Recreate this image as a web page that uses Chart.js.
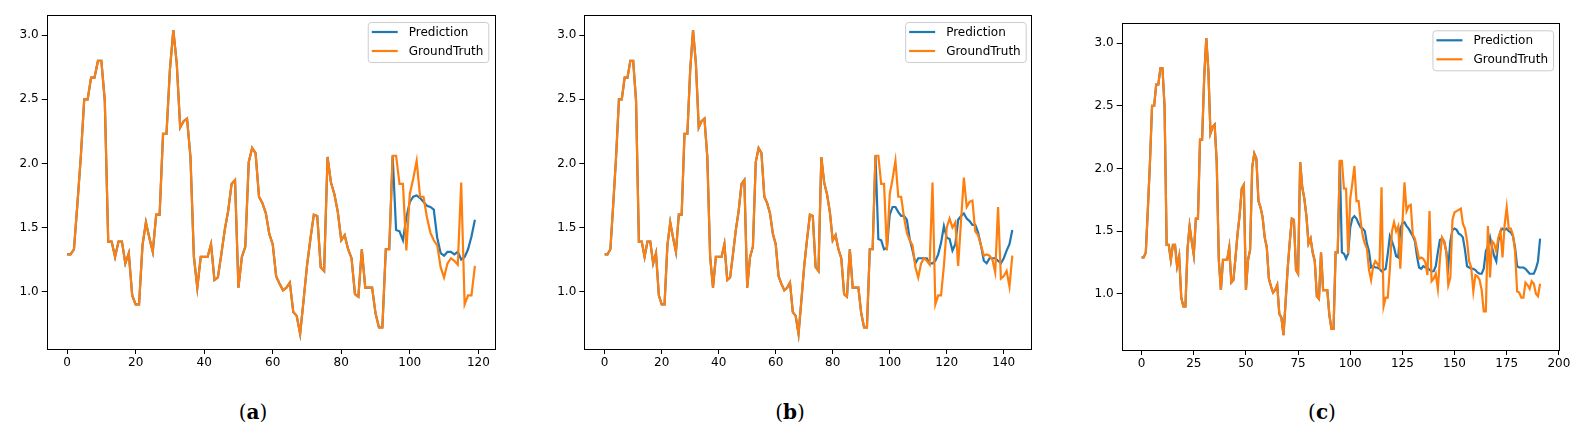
<!DOCTYPE html>
<html>
<head>
<meta charset="utf-8">
<script src="https://cdn.jsdelivr.net/npm/chart.js@4.4.1/dist/chart.umd.min.js"></script>
<style>
html, body { margin: 0; padding: 0; background: #fff; }
body { width: 1586px; height: 432px; position: relative; overflow: hidden; }
canvas { position: absolute; top: 0; }
.cap { position: absolute; top: 400px; width: 60px; margin-left: -30px; text-align: center;
       font-family: 'DejaVu Serif', serif; font-size: 20px; line-height: 24px; color: #000; }
</style>
</head>
<body>
<canvas id="ca" width="505" height="380" style="left:0px"></canvas>
<canvas id="cb" width="500" height="380" style="left:540px"></canvas>
<canvas id="cc" width="500" height="380" style="left:1075px"></canvas>
<div class="cap" style="left:253px">(<b>a</b>)</div>
<div class="cap" style="left:790px">(<b>b</b>)</div>
<div class="cap" style="left:1322px">(<b>c</b>)</div>
<script>
// ground truth, index 0..191 (panel a shows 0..119, b 0..143, c 0..191)
const groundTruth = [
  1.29, 1.29, 1.33, 1.68, 2.05, 2.50, 2.50, 2.67, 2.67, 2.80,
  2.80, 2.49, 1.39, 1.39, 1.27, 1.39, 1.39, 1.22, 1.30, 0.97,
  0.90, 0.90, 1.36, 1.54, 1.42, 1.31, 1.60, 1.60, 2.23, 2.23,
  2.73, 3.04, 2.78, 2.28, 2.33, 2.35, 2.05, 1.27, 1.03, 1.27,
  1.27, 1.27, 1.37, 1.09, 1.11, 1.29, 1.48, 1.63, 1.84, 1.87,
  1.03, 1.27, 1.35, 2.01, 2.12, 2.08, 1.74, 1.69, 1.61, 1.45,
  1.37, 1.12, 1.06, 1.01, 1.03, 1.07, 0.84, 0.81, 0.67, 0.93,
  1.20, 1.41, 1.60, 1.59, 1.19, 1.16, 2.05, 1.85, 1.76, 1.62,
  1.40, 1.44, 1.33, 1.26, 0.98, 0.96, 1.33, 1.03, 1.03, 1.03,
  0.83, 0.72, 0.72, 1.33, 1.33, 2.06, 2.06, 1.84, 1.84, 1.32,
  1.76, 1.88, 2.02, 1.74, 1.74, 1.58, 1.46, 1.40, 1.36, 1.19,
  1.11, 1.22, 1.26, 1.24, 1.21, 1.85, 0.90, 0.97, 0.97, 1.20,
  1.50, 1.57, 1.50, 1.54, 1.20, 1.55, 1.89, 1.66, 1.70, 1.71,
  1.47, 1.44, 1.36, 1.28, 1.29, 1.28, 1.25, 1.15, 1.66, 1.10,
  1.12, 1.16, 1.04, 1.28, 1.45, 1.42, 1.34, 1.07, 1.13, 1.59,
  1.65, 1.66, 1.67, 1.68, 1.56, 1.52, 1.42, 1.26, 1.21, 1.02,
  1.15, 1.14, 1.11, 1.03, 0.86, 0.86, 1.54, 1.13, 1.42, 1.40,
  1.34, 1.45, 1.50, 1.29, 1.55, 1.69, 1.52, 1.52, 1.47, 1.34,
  1.02, 1.01, 0.97, 0.97, 1.09, 1.07, 1.04, 1.10, 1.08, 1.00,
  0.98, 1.08
];

// the prediction follows the input window up to index 95, then forecasts from 96
const inputLength = 96;

const forecastA = [
  1.48, 1.47, 1.40, 1.58, 1.70, 1.74, 1.75, 1.73, 1.70, 1.67,
  1.66, 1.64, 1.42, 1.30, 1.28, 1.31, 1.31, 1.29, 1.31, 1.25,
  1.27, 1.33, 1.43, 1.56
];

const forecastB = [
  1.41, 1.40, 1.33, 1.34, 1.60, 1.66, 1.66, 1.62, 1.59, 1.59,
  1.56, 1.41, 1.32, 1.22, 1.26, 1.26, 1.26, 1.26, 1.22, 1.22,
  1.24, 1.29, 1.38, 1.51, 1.42, 1.41, 1.32, 1.37, 1.56, 1.59,
  1.61, 1.57, 1.55, 1.52, 1.52, 1.46, 1.36, 1.24, 1.22, 1.26,
  1.26, 1.26, 1.24, 1.22, 1.26, 1.32, 1.37, 1.48
];

const forecastC = [
  1.33, 1.32, 1.28, 1.32, 1.53, 1.60, 1.62, 1.60, 1.56, 1.53,
  1.52, 1.50, 1.40, 1.34, 1.21, 1.22, 1.21, 1.21, 1.20, 1.18,
  1.19, 1.20, 1.32, 1.46, 1.42, 1.37, 1.30, 1.29, 1.52, 1.56,
  1.57, 1.54, 1.52, 1.49, 1.46, 1.42, 1.30, 1.21, 1.20, 1.22,
  1.21, 1.21, 1.19, 1.18, 1.18, 1.22, 1.33, 1.43, 1.44, 1.42,
  1.34, 1.22, 1.42, 1.51, 1.52, 1.51, 1.48, 1.47, 1.45, 1.35,
  1.22, 1.21, 1.20, 1.20, 1.19, 1.17, 1.16, 1.16, 1.20, 1.34,
  1.38, 1.45, 1.37, 1.30, 1.26, 1.42, 1.50, 1.52, 1.51, 1.52,
  1.50, 1.49, 1.46, 1.37, 1.22, 1.21, 1.21, 1.21, 1.20, 1.18,
  1.16, 1.16, 1.16, 1.20, 1.26, 1.44
];

const xTicksA = [0, 20, 40, 60, 80, 100, 120];
const xTicksB = [0, 20, 40, 60, 80, 100, 120, 140];
const xTicksC = [0, 25, 50, 75, 100, 125, 150, 175, 200];
const yTicks = [1.0, 1.5, 2.0, 2.5, 3.0];

const BLUE = '#1f77b4';
const ORANGE = '#ff7f0e';

Chart.defaults.font.family = "'DejaVu Sans', sans-serif";
Chart.defaults.font.size = 12;
Chart.defaults.color = '#000';

// page-pixel geometry of each axes box
const panels = [
  { canvas: 'ca', canvasLeft: 0,    canvasWidth: 505, left: 46.7,   right: 495.3, top: 15,   bottom: 349, forecast: forecastA, xTicks: xTicksA },
  { canvas: 'cb', canvasLeft: 540,  canvasWidth: 500, left: 584.3,  right: 1032.7, top: 15,  bottom: 349, forecast: forecastB, xTicks: xTicksB },
  { canvas: 'cc', canvasLeft: 1075, canvasWidth: 500, left: 1121.7, right: 1560, top: 23.3,  bottom: 350, forecast: forecastC, xTicks: xTicksC }
];

const toPoints = (values) => values.map((v, i) => ({ x: i, y: v }));

const framePlugin = {
  id: 'frame',
  afterDatasetsDraw(chart) {
    const a = chart.chartArea, ctx = chart.ctx;
    ctx.save();
    ctx.strokeStyle = '#000';
    ctx.lineWidth = 1;
    ctx.strokeRect(Math.round(a.left) + 0.5, Math.round(a.top) + 0.5,
                   Math.round(a.right - a.left) - 1, Math.round(a.bottom - a.top));
    ctx.restore();
  }
};

const boxLegend = {
  id: 'boxLegend',
  afterDraw(chart) {
    const a = chart.chartArea, ctx = chart.ctx;
    const sets = chart.data.datasets;
    ctx.save();
    ctx.font = "12px 'DejaVu Sans', sans-serif";
    let textW = 0;
    sets.forEach(d => { textW = Math.max(textW, ctx.measureText(d.label).width); });
    const w = 41 + textW + 5, h = 40;
    const x0 = a.right - 7 - w, y0 = a.top + 7;
    ctx.beginPath();
    ctx.roundRect(x0 + 0.5, y0 + 0.5, w, h, 3);
    ctx.fillStyle = 'rgba(255,255,255,0.8)';
    ctx.fill();
    ctx.strokeStyle = '#cccccc';
    ctx.lineWidth = 1;
    ctx.stroke();
    sets.forEach((d, i) => {
      const y = y0 + 10 + i * 19;
      ctx.beginPath();
      ctx.moveTo(x0 + 4, y);
      ctx.lineTo(x0 + 30, y);
      ctx.strokeStyle = d.borderColor;
      ctx.lineWidth = 2.2;
      ctx.stroke();
      ctx.fillStyle = '#000';
      ctx.textBaseline = 'middle';
      ctx.textAlign = 'left';
      ctx.fillText(d.label, x0 + 41, y + 1);
    });
    ctx.restore();
  }
};

panels.forEach(p => {
  const n = p.forecast.length + inputLength;
  const truth = groundTruth.slice(0, n);
  const pred = groundTruth.slice(0, inputLength).concat(p.forecast);
  const all = truth.concat(pred);
  const lo = Math.min(...all), hi = Math.max(...all);
  const yPad = 0.05 * (hi - lo), xPad = 0.05 * (n - 1);

  const yWidth = p.left - p.canvasLeft;
  const xHeight = 380 - p.bottom;

  new Chart(document.getElementById(p.canvas), {
    type: 'line',
    data: {
      datasets: [
        { label: 'Prediction', data: toPoints(pred), borderColor: BLUE, borderWidth: 2.2, pointRadius: 0, tension: 0, order: 2 },
        { label: 'GroundTruth', data: toPoints(truth), borderColor: ORANGE, borderWidth: 2.2, pointRadius: 0, tension: 0, order: 1 }
      ]
    },
    options: {
      responsive: false,
      animation: false,
      events: [],
      layout: { padding: { left: 0, top: p.top, right: p.canvasLeft + p.canvasWidth - p.right, bottom: 0 } },
      plugins: { legend: { display: false }, tooltip: { enabled: false } },
      scales: {
        x: {
          type: 'linear',
          min: -xPad,
          max: n - 1 + xPad,
          afterBuildTicks: (s) => { s.ticks = p.xTicks.map(v => ({ value: v })); },
          afterFit: (s) => { s.height = xHeight; },
          ticks: { padding: 2, maxRotation: 0, callback: (v) => String(v) },
          grid: { display: true, drawOnChartArea: false, drawTicks: true, tickLength: 5, tickColor: '#000' },
          border: { display: false }
        },
        y: {
          type: 'linear',
          min: lo - yPad,
          max: hi + yPad,
          afterBuildTicks: (s) => { s.ticks = yTicks.map(v => ({ value: v })); },
          afterFit: (s) => { s.width = yWidth; },
          ticks: { padding: 3, callback: (v) => v.toFixed(1) },
          grid: { display: true, drawOnChartArea: false, drawTicks: true, tickLength: 5, tickColor: '#000' },
          border: { display: false }
        }
      }
    },
    plugins: [framePlugin, boxLegend]
  });
});
</script>
</body>
</html>
